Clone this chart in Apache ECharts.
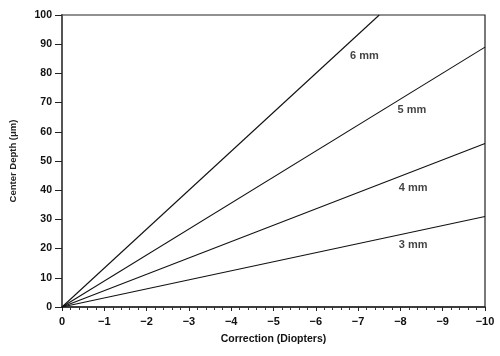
<!DOCTYPE html>
<html><head><meta charset="utf-8">
<script src="https://cdn.jsdelivr.net/npm/echarts@6/dist/echarts.min.js"></script>
<style>html,body{margin:0;padding:0;background:#fff}#c{width:500px;height:356px}</style>
</head><body><div id="c"></div>
<script>
// Data (correction in diopters, center depth in µm)
var seriesNames = ['6 mm', '5 mm', '4 mm', '3 mm'];
var correction6 = [0, -7.5];
var depth6 = [0, 100];
var correction5 = [0, -10];
var depth5 = [0, 89];
var correction4 = [0, -10];
var depth4 = [0, 56];
var correction3 = [0, -10];
var depth3 = [0, 31];
var labelX = [-7.15, -8.27, -8.3, -8.3];
var labelY = [86, 67.5, 40.8, 21.2];
var xTicks = [0, -1, -2, -3, -4, -5, -6, -7, -8, -9, -10];
var yTicks = [0, 10, 20, 30, 40, 50, 60, 70, 80, 90, 100];

function pairs(xs, ys){ return xs.map(function(x,i){return [x, ys[i]];}); }
var lineData = [pairs(correction6, depth6), pairs(correction5, depth5), pairs(correction4, depth4), pairs(correction3, depth3)];

var font = 'Liberation Sans, Arial, sans-serif';
var series = lineData.map(function(d, i){
  return {
    name: seriesNames[i], type: 'line', data: d, symbol: 'none', silent: true,
    lineStyle: {color: '#111', width: 1.1}, z: 3
  };
});
series.push({
  type: 'scatter', symbolSize: 0, silent: true,
  data: labelX.map(function(x,i){return {value:[x, labelY[i]], name: seriesNames[i]};}),
  label: {show: true, position: 'inside', formatter: function(p){return p.name;},
    color: '#111', fontFamily: font, fontWeight: 'bold', fontSize: 11}
});

var chart = echarts.init(document.getElementById('c'), null, {renderer: 'canvas'});
chart.setOption({
  animation: false,
  backgroundColor: '#fff',
  grid: {left: 57, right: 15, top: 15, bottom: 49, show: true, borderColor: '#222', borderWidth: 1.2, backgroundColor: 'transparent'},
  xAxis: {
    type: 'value', min: -10, max: 0, interval: 1, inverse: true,
    name: 'Correction (Diopters)', nameLocation: 'middle', nameGap: 27,
    nameTextStyle: {fontFamily: font, fontWeight: 'bold', fontSize: 10.5, color: '#111'},
    axisLine: {show: true, lineStyle: {color: '#222', width: 1.5}},
    axisTick: {show: true, length: 4, lineStyle: {color: '#222'}},
    minorTick: {show: true, splitNumber: 5, length: 3, lineStyle: {color: '#333'}},
    splitLine: {show: false},
    axisLabel: {fontFamily: font, fontWeight: 'bold', fontSize: 11, color: '#111', margin: 9,
      formatter: function(v){ return v === 0 ? '0' : '\u2212' + Math.abs(v); }}
  },
  yAxis: {
    type: 'value', min: 0, max: 100, interval: 10,
    name: 'Center Depth (\u03bcm)', nameLocation: 'middle', nameGap: 44, nameRotate: 90,
    nameTextStyle: {fontFamily: font, fontWeight: 'bold', fontSize: 9.5, color: '#222'},
    axisLine: {show: true, lineStyle: {color: '#555', width: 2}},
    axisTick: {show: true, length: 7, lineStyle: {color: '#222'}},
    splitLine: {show: false},
    axisLabel: {fontFamily: font, fontWeight: 'bold', fontSize: 10.5, color: '#111', margin: 10}
  },
  series: series
});
</script></body></html>
